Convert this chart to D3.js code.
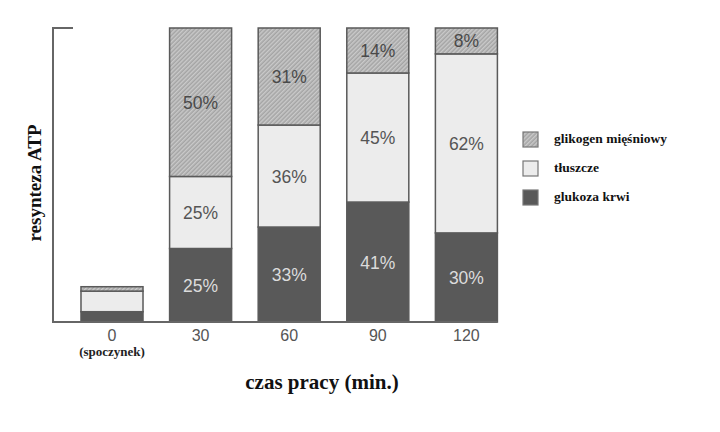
<!DOCTYPE html>
<html><head><meta charset="utf-8">
<script src="https://cdn.jsdelivr.net/npm/d3@7"></script>
<style>body{margin:0;background:#fff}svg{display:block}</style>
</head><body>
<svg id="c" width="720" height="432"></svg>
<script>
const categories = ["0", "30", "60", "90", "120"];
// segment heights as drawn in the picture (share of full bar height)
const glucose = [3.5, 25, 32.3, 40.8, 30.3];
const fat = [7, 24.5, 34.7, 43.9, 60.9];
const glycogen = [1.5, 50.5, 33, 15.3, 8.8];
const labelsGlucose = ["", "25%", "33%", "41%", "30%"];
const labelsFat = ["", "25%", "36%", "45%", "62%"];
const labelsGlycogen = ["", "50%", "31%", "14%", "8%"];
const legendLabels = ["glikogen mięśniowy", "tłuszcze", "glukoza krwi"];

const svg = d3.select("#c");
const defs = svg.append("defs");
const pat = defs.append("pattern").attr("id","hatch").attr("patternUnits","userSpaceOnUse")
  .attr("width",3).attr("height",3).attr("patternTransform","rotate(45)");
pat.append("rect").attr("width",3).attr("height",3).attr("fill","#b5b5b5");
pat.append("rect").attr("width",1).attr("height",3).attr("fill","#cacaca");
pat.append("rect").attr("x",2).attr("width",1).attr("height",3).attr("fill","#a4a4a4");

const x = d3.scaleBand().domain(categories).range([67.7, 510.7]).paddingInner(0.3).paddingOuter(0.15);
const y = d3.scaleLinear().domain([0,100]).range([322, 28]);

const serif = "'Liberation Serif', 'Times New Roman', serif";
const sans = "'Liberation Sans', Arial, sans-serif";

const series = [
  {vals: glucose, fill: "#595959", labels: labelsGlucose, tc: "#dcdcdc"},
  {vals: fat, fill: "#ececec", labels: labelsFat, tc: "#555"},
  {vals: glycogen, fill: "url(#hatch)", labels: labelsGlycogen, tc: "#4a4a4a"}
];
const stroke = "#5a5a5a";

categories.forEach((c, i) => {
  let base = 0;
  series.forEach(s => {
    const v = s.vals[i];
    const y0 = y(base), y1 = y(base + v);
    svg.append("rect").attr("x", x(c)).attr("y", y1).attr("width", x.bandwidth()).attr("height", y0 - y1)
      .attr("fill", s.fill).attr("stroke", stroke).attr("stroke-width", 1.5);
    if (s.labels[i]) {
      svg.append("text").attr("x", x(c) + x.bandwidth()/2).attr("y", (y0+y1)/2 + 6.5)
        .attr("text-anchor","middle").attr("font-family", sans)
        .attr("font-size", 17.5).attr("fill", s.tc).text(s.labels[i]);
    }
    base += v;
  });
});

// axes
const ax = "#666";
svg.append("path").attr("d", `M73,${y(100)}H53V${y(0)}H${x(categories[4]) + x.bandwidth()}`)
  .attr("fill","none").attr("stroke", ax).attr("stroke-width", 2);

categories.forEach(c => {
  svg.append("text").attr("x", x(c) + x.bandwidth()/2).attr("y", 341)
    .attr("text-anchor","middle").attr("font-family", sans)
    .attr("font-size", 16).attr("fill", "#555").text(c);
});
svg.append("text").attr("x", x("0") + x.bandwidth()/2).attr("y", 356)
  .attr("text-anchor","middle").attr("font-family", serif).attr("font-weight","bold")
  .attr("font-size", 13).attr("fill", "#222").text("(spoczynek)");

svg.append("text").attr("x", 322).attr("y", 389).attr("text-anchor","middle")
  .attr("font-family", serif).attr("font-size", 21).attr("font-weight","bold")
  .attr("fill","#111").text("czas pracy (min.)");

svg.append("text").attr("transform", "translate(41,183) rotate(-90)").attr("text-anchor","middle")
  .attr("font-family", serif).attr("font-size", 19).attr("font-weight","bold")
  .attr("fill","#111").text("resynteza ATP");

// legend
const legFills = ["url(#hatch)", "#ececec", "#595959"];
legendLabels.forEach((l, i) => {
  const ly = 132 + i * 29;
  svg.append("rect").attr("x", 523).attr("y", ly).attr("width", 15).attr("height", 15)
    .attr("fill", legFills[i]).attr("stroke", "#777").attr("stroke-width", 1.2);
  svg.append("text").attr("x", 554).attr("y", ly + 11).attr("font-family", serif)
    .attr("font-weight","bold").attr("font-size", 13.5).attr("fill","#111").text(l);
});
</script>
</body></html>
